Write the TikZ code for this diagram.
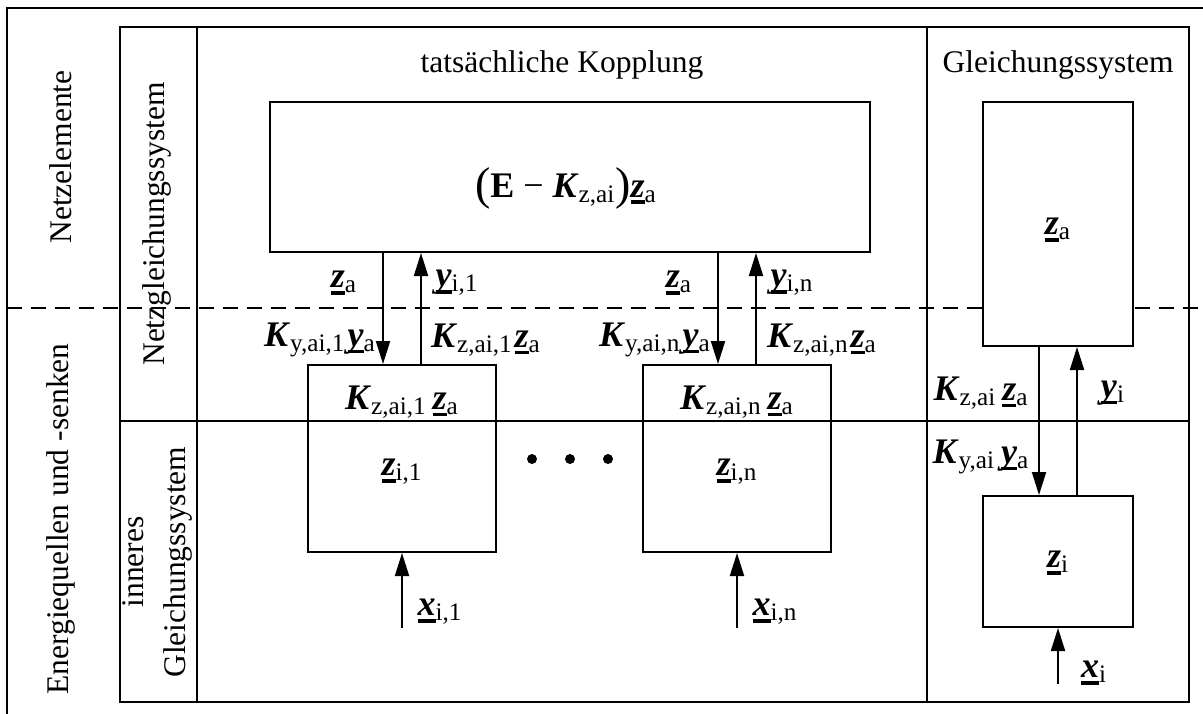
\documentclass[tikz,border=0pt]{standalone}
\usepackage{fontspec}
\setmainfont{Liberation Serif}
\usetikzlibrary{arrows.meta}
\newcommand{\bv}[1]{\textbf{\textit{#1}}}
\newcommand{\uv}[1]{\setbox0=\hbox{\bv{#1}}\rlap{\rule[-3.5pt]{\wd0}{1.8pt}}\box0}
\newcommand{\idx}[1]{\textsubscript{#1}}
\newcommand{\klammer}[1]{{\fontsize{23}{23}\selectfont\raisebox{-1pt}{#1}}}
\begin{document}
\begin{tikzpicture}[x=0.5pt,y=-0.5pt,
  txt/.style={font=\fontsize{15.75}{21}\selectfont, inner sep=0pt},
  mtxt/.style={font=\fontsize{18}{21}\selectfont, inner sep=0pt},
  kasten/.style={draw, line width=1pt, inner sep=0pt},
  pfeil/.style={-{Triangle[length=11.5pt,width=7pt]}, line width=1pt},
  linie/.style={line width=1pt}]
\clip (0,0) rectangle (1203,713);
\draw[line width=1.2pt] (7,730) -- (7,8) -- (1220,8);
\draw[linie] (120,27) rectangle (1189,702);
\draw[linie] (197,27) -- (197,702);
\draw[linie] (927,27) -- (927,702);
\draw[linie] (120,421) -- (1189,421);
\draw[linie, dash pattern=on 7.5pt off 4.5pt] (7,308) -- (1203,308);
\node[txt] (titelK) at (562,65) {tatsächliche Kopplung};
\node[txt] (titelG) at (1058,65) {Gleichungssystem};
\node[txt, rotate=90] (netz) at (61,157) {Netzelemente};
\node[txt, rotate=90] (energie) at (61,519) {Energiequellen und -senken};
\node[txt, rotate=90] (netzgl) at (157,224) {Netzgleichungssystem};
\node[txt, rotate=90, align=center] (inneres) at (157,562) {inneres\\Gleichungssystem};
% Kasten
\node[kasten, minimum width=300pt, minimum height=75pt] (kopplung) at (570,177) {};
\node[kasten, minimum width=94pt, minimum height=93.5pt] (box1) at (402,458.5) {};
\node[kasten, minimum width=94pt, minimum height=93.5pt] (boxn) at (737,458.5) {};
\node[kasten, fill=white, minimum width=75pt, minimum height=122pt] (za) at (1058,224) {};
\node[kasten, minimum width=75pt, minimum height=65.5pt] (zi) at (1058,561.5) {};
% Pfeile
\coordinate (ab1) at (383,0);
\coordinate (auf1) at (421,0);
\coordinate (abn) at (718,0);
\coordinate (aufn) at (756,0);
\coordinate (abi) at (1039,0);
\coordinate (aufi) at (1077,0);
\coordinate (in1) at (402,628);
\coordinate (inn) at (737,628);
\coordinate (ini) at (1058,684);
\draw[pfeil] (kopplung.south -| ab1) -- (box1.north -| ab1);
\draw[pfeil] (box1.north -| auf1) -- (kopplung.south -| auf1);
\draw[pfeil] (kopplung.south -| abn) -- (boxn.north -| abn);
\draw[pfeil] (boxn.north -| aufn) -- (kopplung.south -| aufn);
\draw[pfeil] (za.south -| abi) -- (zi.north -| abi);
\draw[pfeil] (zi.north -| aufi) -- (za.south -| aufi);
\draw[pfeil] (in1) -- (box1.south);
\draw[pfeil] (inn) -- (boxn.south);
\draw[pfeil] (ini) -- (zi.south);
% Beschriftungen
\node[mtxt] (formel) at (566,188) {\klammer{(}\textbf{E} − \bv{K}\idx{z,ai}\klammer{)}\uv{z}\idx{a}};
\node[mtxt] (za1) at (344,283) {\uv{z}\idx{a}};
\node[mtxt] (yi1) at (457,283) {\uv{y}\idx{i,1}};
\node[mtxt] (kya1) at (320,340) {\bv{K}\idx{y,ai,1}\kern1pt\uv{y}\idx{a}};
\node[mtxt] (kza1) at (486,340) {\bv{K}\idx{z,ai,1}\kern1pt\uv{z}\idx{a}};
\node[mtxt] (zan) at (679,283) {\uv{z}\idx{a}};
\node[mtxt] (yin) at (792,283) {\uv{y}\idx{i,n}};
\node[mtxt] (kyan) at (655,340) {\bv{K}\idx{y,ai,n}\kern1pt\uv{y}\idx{a}};
\node[mtxt] (kzan) at (822,340) {\bv{K}\idx{z,ai,n}\kern1pt\uv{z}\idx{a}};
\node[mtxt] (k1) at (402,402) {\bv{K}\idx{z,ai,1}\,\uv{z}\idx{a}};
\node[mtxt] (zi1) at (402,472) {\uv{z}\idx{i,1}};
\node[mtxt] (kn) at (737,402) {\bv{K}\idx{z,ai,n}\,\uv{z}\idx{a}};
\node[mtxt] (zin) at (737,472) {\uv{z}\idx{i,n}};
\node[mtxt] (xi1) at (440,612) {\uv{x}\idx{i,1}};
\node[mtxt] (xin) at (775,612) {\uv{x}\idx{i,n}};
\node[mtxt] (kzai) at (981,393) {\bv{K}\idx{z,ai}\,\uv{z}\idx{a}};
\node[mtxt] (yi) at (1113,393) {\uv{y}\idx{i}};
\node[mtxt] (kyai) at (981,457) {\bv{K}\idx{y,ai}\,\uv{y}\idx{a}};
\node[mtxt] (zatxt) at (1058,230) {\uv{z}\idx{a}};
\node[mtxt] (zitxt) at (1058,563) {\uv{z}\idx{i}};
\node[mtxt] (xi) at (1094,673) {\uv{x}\idx{i}};
\foreach \px in {532,570,608}
  \fill (\px,459) circle (2.5pt);
\end{tikzpicture}
\end{document}
